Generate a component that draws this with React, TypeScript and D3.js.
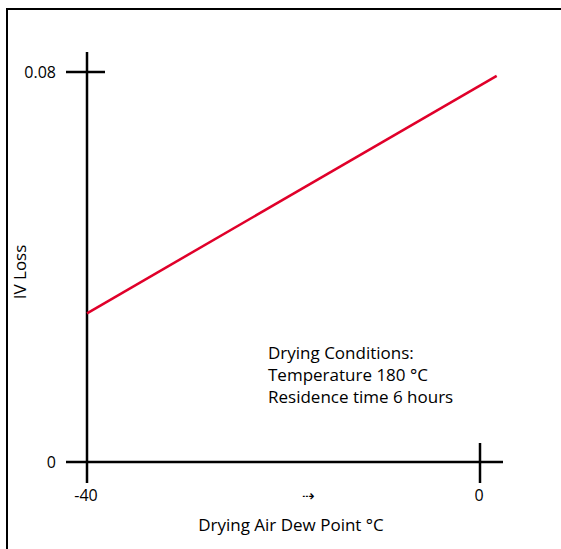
import React from 'react';
import * as d3 from 'd3';

// line end points
const dewPoint = [-40, 1.7];
const ivLoss = [0.0305, 0.0792];
const xTicks = [-40, 0];
const yTicks = [0, 0.08];
const notes = ['Drying Conditions:', 'Temperature 180 °C', 'Residence time 6 hours'];

const W = 561;
const H = 549;
const FONT = 'Open Sans, Noto Sans, sans-serif';

const App = () => {
  const x = d3.scaleLinear().domain([-40, 0]).range([87, 480]);
  const y = d3.scaleLinear().domain([0, 0.08]).range([462, 72]);

  const pts: [number, number][] = dewPoint.map((d, i) => [d, ivLoss[i]]);
  const line = d3.line<[number, number]>()
    .x(d => x(d[0]))
    .y(d => y(d[1]));

  const x0 = x(-40);
  const y0 = y(0);

  return (
    <svg width={W} height={H} style={{ position: 'absolute', left: 0, top: 0 }}>
      <rect x={0} y={0} width={W} height={H} fill="#fff" />
      <rect x={7} y={9} width={700} height={700} fill="none" stroke="#000" strokeWidth={2} />

      {/* axes */}
      <line x1={x0} x2={x0} y1={52} y2={483} stroke="#000" strokeWidth={2.5} />
      <line x1={66} x2={503} y1={y0} y2={y0} stroke="#000" strokeWidth={2.5} />

      {/* y ticks */}
      {yTicks.map(t => (
        <g key={t}>
          {t !== 0 && (
            <line x1={x0 - 21} x2={x0 + 18} y1={y(t)} y2={y(t)} stroke="#000" strokeWidth={2.5} />
          )}
          <text x={56} y={y(t)} dy="0.36em" textAnchor="end" fontFamily={FONT} fontSize={16}>
            {t === 0 ? '0' : d3.format('.2f')(t)}
          </text>
        </g>
      ))}

      {/* x ticks */}
      {xTicks.map(t => (
        <g key={t}>
          {t !== -40 && (
            <line x1={x(t)} x2={x(t)} y1={y0 - 19} y2={y0 + 21} stroke="#000" strokeWidth={2.5} />
          )}
          <text x={x(t) - 1} y={501} textAnchor="middle" fontFamily={FONT} fontSize={16}>
            {t}
          </text>
        </g>
      ))}
      <text x={308} y={501} textAnchor="middle" fontFamily={FONT} fontSize={15}>⇢</text>

      {/* data */}
      <path d={line(pts) || ''} fill="none" stroke="#e0002a" strokeWidth={2.5} />

      {/* labels */}
      <text x={291} y={531} textAnchor="middle" fontFamily={FONT} fontSize={17}>
        Drying Air Dew Point °C
      </text>
      <text transform="translate(26,272) rotate(-90)" textAnchor="middle" fontFamily={FONT} fontSize={17}>
        IV Loss
      </text>
      {notes.map((n, i) => (
        <text key={n} x={268} y={359 + i * 22} fontFamily={FONT} fontSize={17}>
          {n}
        </text>
      ))}
    </svg>
  );
};

export default App;
